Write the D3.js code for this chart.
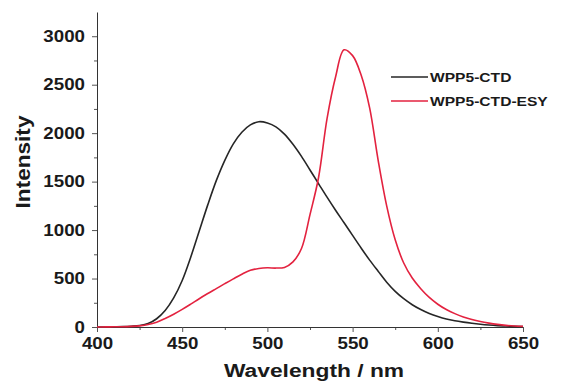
<!DOCTYPE html>
<html>
<head>
<meta charset="utf-8">
<script src="https://cdn.jsdelivr.net/npm/d3@7"></script>
<style>
  body { margin: 0; background: #fff; }
  text { font-family: "Liberation Sans", Arial, sans-serif; font-weight: bold; fill: #1a1a1a; }
</style>
</head>
<body>
<svg width="565" height="383"></svg>
<script>
// spectra, 5 nm steps
const wavelength = d3.range(400, 651, 5);
const ctd = [0, 0, 2, 4, 8, 15, 35, 85, 170, 300, 480, 720, 990, 1260, 1510, 1720, 1890, 2010, 2085, 2118,
  2105, 2065, 1990, 1885, 1760, 1620, 1480, 1340, 1205, 1075, 945, 815, 690, 575, 462, 368, 292, 230, 180, 140,
  108, 82, 64, 50, 38, 28, 20, 14, 10, 6, 4];
const ctdEsy = [0, 1, 2, 3, 6, 12, 25, 50, 88, 132, 182, 236, 292, 345, 396, 447, 497, 545, 585, 604,
  611, 608, 615, 672, 810, 1160, 1540, 2150, 2580, 2860, 2800, 2600, 2260, 1720, 1250, 900, 660, 505, 395, 305,
  235, 180, 138, 104, 77, 56, 40, 27, 17, 10, 6];
const seriesNames = ["WPP5-CTD", "WPP5-CTD-ESY"];
const seriesColors = ["#262626", "#e3223f"];
const xTicks = [400, 450, 500, 550, 600, 650];
const yTicks = [0, 500, 1000, 1500, 2000, 2500, 3000];

const margin = { top: 12, right: 42, bottom: 56, left: 97 };
const width = 565, height = 383;
const sx = 1.17; // glyphs in the picture are a bit wider than Arial

const svg = d3.select("svg");

const x = d3.scaleLinear().domain([400, 650]).range([margin.left, width - margin.right]);
const y = d3.scaleLinear().domain([0, 3250]).range([height - margin.bottom, margin.top]);

// minor ticks
svg.append("g")
   .attr("transform", `translate(0,${y(0)})`)
   .call(d3.axisBottom(x).tickValues(d3.range(425, 650, 50)).tickSize(3).tickFormat(""))
   .call(g => g.select(".domain").remove());
svg.append("g")
   .attr("transform", `translate(${x(400)},0)`)
   .call(d3.axisLeft(y).tickValues(d3.range(250, 3250, 500)).tickSize(3).tickFormat(""))
   .call(g => g.select(".domain").remove());

const xAxis = svg.append("g")
   .attr("transform", `translate(0,${y(0)})`)
   .call(d3.axisBottom(x).tickValues(xTicks).tickFormat(d3.format("d"))
          .tickSize(5).tickSizeOuter(0).tickPadding(6));
xAxis.selectAll("text")
   .attr("font-size", 16)
   .attr("transform", `scale(${sx},1)`);

const yAxis = svg.append("g")
   .attr("transform", `translate(${x(400)},0)`)
   .call(d3.axisLeft(y).tickValues(yTicks).tickFormat(d3.format("d"))
          .tickSize(5).tickSizeOuter(0).tickPadding(7));
yAxis.selectAll("text")
   .attr("font-size", 16)
   .attr("x", -12 / sx)
   .attr("transform", `scale(${sx},1)`);

svg.selectAll(".domain").attr("stroke", "#333");
svg.selectAll(".tick line").attr("stroke", "#555");

// curves
const line = d3.line()
   .x((d, i) => x(wavelength[i]))
   .y(d => y(d))
   .curve(d3.curveCatmullRom);

[ctd, ctdEsy].forEach((s, i) => {
  svg.append("path")
     .attr("d", line(s))
     .attr("fill", "none")
     .attr("stroke", seriesColors[i])
     .attr("stroke-width", 1.6);
});

// axis titles
svg.append("text")
   .attr("transform", `translate(${(x(400) + x(650)) / 2 + 4},377) scale(1.2,1)`)
   .attr("text-anchor", "middle")
   .attr("font-size", 19)
   .text("Wavelength / nm");

svg.append("text")
   .attr("transform", `translate(30,162) rotate(-90) scale(1.13,1)`)
   .attr("text-anchor", "middle")
   .attr("font-size", 20)
   .text("Intensity");

// legend
const legend = svg.append("g").attr("transform", "translate(391,77)");
seriesNames.forEach((n, i) => {
  const g = legend.append("g").attr("transform", `translate(0,${i * 24})`);
  g.append("line").attr("x1", 0).attr("x2", 37).attr("y1", 0).attr("y2", 0)
   .attr("stroke", seriesColors[i]).attr("stroke-width", 1.6);
  g.append("text")
   .attr("transform", `translate(39,5) scale(1.2,1)`)
   .attr("font-size", 13)
   .text(n);
});
</script>
</body>
</html>
